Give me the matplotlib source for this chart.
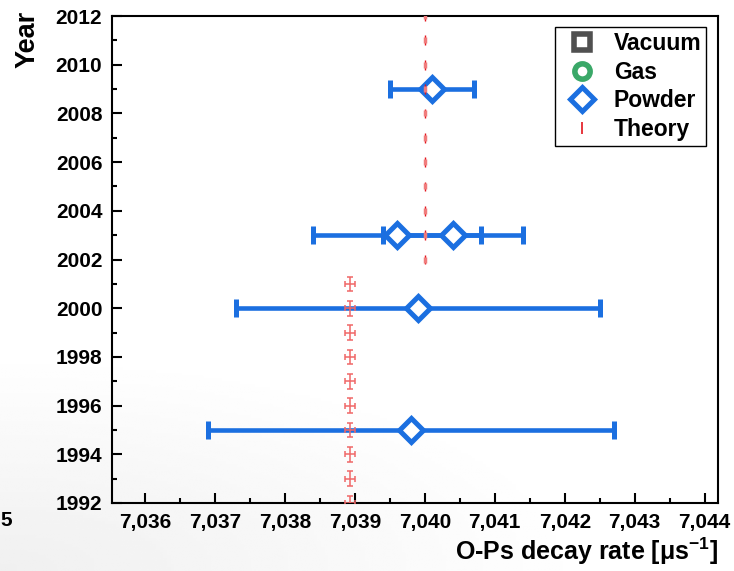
import numpy as np
import matplotlib
matplotlib.use("Agg")
import matplotlib.pyplot as plt
from matplotlib.ticker import MultipleLocator, FuncFormatter

plt.rcParams["font.family"] = ["Liberation Sans", "DejaVu Sans"]
plt.rcParams["font.weight"] = "bold"
plt.rcParams["axes.labelweight"] = "bold"
plt.rcParams["mathtext.fontset"] = "custom"
plt.rcParams["mathtext.rm"] = "Liberation Sans:bold"
plt.rcParams["mathtext.it"] = "Liberation Sans:bold"
plt.rcParams["mathtext.bf"] = "Liberation Sans:bold"

# Powder measurements (year, decay rate, error)
powder_year = [2009, 2003, 2003, 2000, 1995]
powder_rate = [7.0401, 7.0396, 7.0404, 7.0399, 7.0398]
powder_err = [0.0006, 0.0012, 0.0010, 0.0026, 0.0029]

# No vacuum / gas points in this range
vacuum_year, vacuum_rate = [], []
gas_year, gas_rate = [], []

# Theory values
theory_new_year = [2002, 2003, 2004, 2005, 2006, 2007, 2008, 2009, 2010, 2011, 2012]
theory_new_rate = [7.0400] * 11
theory_old_year = [1992, 1993, 1994, 1995, 1996, 1997, 1998, 1999, 2000, 2001]
theory_old_rate = [7.03893] * 10

year_ticks = [1992, 1994, 1996, 1998, 2000, 2002, 2004, 2006, 2008, 2010, 2012]
rate_ticks = [7.036, 7.037, 7.038, 7.039, 7.040, 7.041, 7.042, 7.043, 7.044]

blue = "#1b6fe0"
W, H = 734, 571
fig = plt.figure(figsize=(W / 100, H / 100), dpi=100)

# faint grey shading in the lower left corner
bg = fig.add_axes([0, 0, 1, 1], zorder=-10)
bg.axis("off")
xx, yy = np.meshgrid(np.linspace(0, 1, 200), np.linspace(0, 1, 200))
d = np.sqrt((xx * W / 600) ** 2 + (yy * H / 220) ** 2)
shade = 0.94 + 0.06 * np.clip(d, 0, 1)
bg.imshow(shade, cmap="gray", vmin=0, vmax=1, origin="lower",
          extent=[0, 1, 0, 1], aspect="auto")

ax = fig.add_axes([112 / W, 1 - 503 / H, 606 / W, 487 / H])
ax.patch.set_alpha(0)

ax.errorbar(powder_rate, powder_year, xerr=powder_err, fmt="D", color=blue,
            mfc="white", mec=blue, ms=12, mew=3.6, elinewidth=3.3,
            capsize=6.5, capthick=3.3, zorder=3)

# theory: new value as short vertical dashes, old value as small crosses
ax.errorbar(theory_new_rate, theory_new_year, yerr=0.2, fmt="none",
            ecolor="#e3141c", elinewidth=1.0, zorder=4)
ax.plot(theory_new_rate, theory_new_year, "|", color="#f07c7c", ms=4, mew=2.5,
        zorder=4)
ax.errorbar(theory_old_rate, theory_old_year, xerr=0.00007, yerr=0.3,
            fmt="none", ecolor="#f06868", elinewidth=1.3, capsize=2.5,
            capthick=1.3, alpha=0.85, zorder=4)

h_vac, = ax.plot(vacuum_rate, vacuum_year, "s", ms=11, mfc="white",
                 mec="#505050", mew=4, label="Vacuum")
h_gas, = ax.plot(gas_rate, gas_year, "o", ms=11, mfc="white",
                 mec="#3aa868", mew=4, label="Gas")
h_pow, = ax.plot([], [], "D", ms=12, mfc="white", mec=blue, mew=3.6,
                 label="Powder")
h_th, = ax.plot([], [], "|", ms=9, color="#e3141c", mew=1.2, label="Theory")

ax.set_xlim(7.03553, 7.04419)
ax.set_ylim(1992, 2012)
ax.set_xticks(rate_ticks)
ax.set_yticks(year_ticks)
ax.xaxis.set_minor_locator(MultipleLocator(0.0005))
ax.yaxis.set_minor_locator(MultipleLocator(1))
ax.xaxis.set_major_formatter(FuncFormatter(lambda v, p: f"{v:.3f}".replace(".", ",")))
ax.tick_params(which="both", direction="in", width=1.5, labelsize=15,
               top=False, right=False, pad=7)
ax.tick_params(which="major", length=7)
ax.tick_params(which="minor", length=3.5)
for s in ax.spines.values():
    s.set_linewidth(1.5)

ax.set_xlabel("O-Ps decay rate [μs$^{-1}$]", fontsize=18, fontweight="bold",
              loc="right", labelpad=3)
ax.set_ylabel("Year", fontsize=19.5, fontweight="bold", loc="top")
ax.yaxis.set_label_coords(-0.118, 1.01)

leg = ax.legend(handles=[h_vac, h_gas, h_pow, h_th], loc="upper right",
                bbox_to_anchor=((706 - 112) / 606, 1 - 11 / 487),
                prop={"size": 16.5, "weight": "bold"},
                fancybox=False, framealpha=1, edgecolor="black",
                handlelength=1.9, handletextpad=0.45, labelspacing=0.26,
                borderpad=0.2, borderaxespad=0)
leg.get_frame().set_linewidth(1.0)

# stray tick digit at the left edge
fig.text(0, 1 - 521 / H, "5", fontsize=15, ha="left", va="center")

fig.savefig("out.png", dpi=100)
